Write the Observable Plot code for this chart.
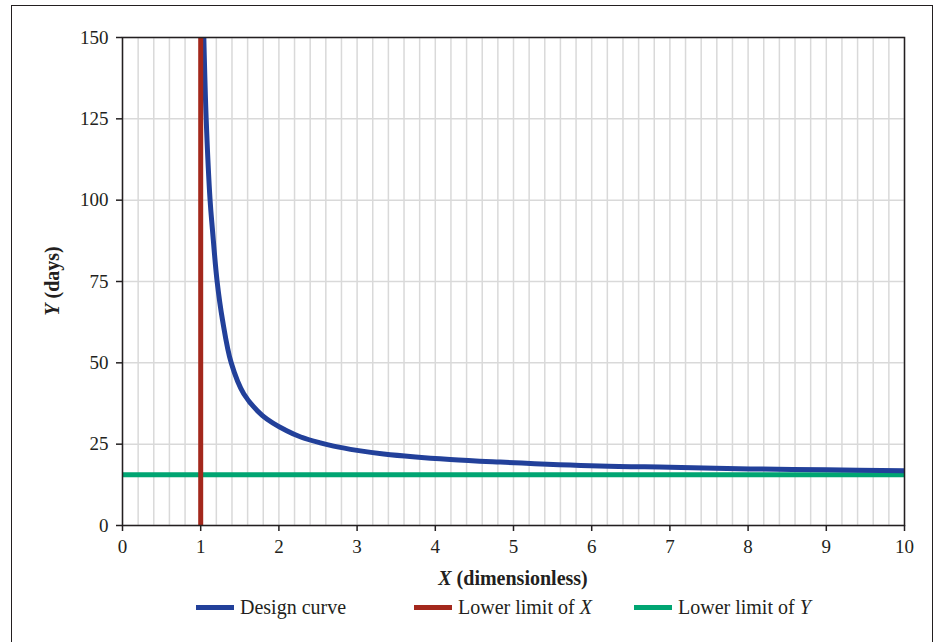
<!DOCTYPE html>
<html>
<head>
<meta charset="utf-8">
<script src="https://cdn.jsdelivr.net/npm/d3@7"></script>
<script src="https://cdn.jsdelivr.net/npm/@observablehq/plot@0.6"></script>
<style>
  html, body { margin: 0; padding: 0; background: #fff; width: 940px; height: 642px; overflow: hidden; }
  #frame { position: absolute; left: 11px; top: 5px; width: 922px; height: 660px; border: 1.5px solid #231f20; box-sizing: border-box; }
  #chart { position: absolute; left: 0; top: 0; }
  .leg { position: absolute; top: 596px; height: 22px; display: flex; align-items: center; font-family: 'Liberation Serif', serif; font-size: 20px; color: #231f20; white-space: nowrap; }
  .sw { width: 38px; height: 5px; margin-right: 6px; }
</style>
</head>
<body>
<div id="frame"></div>
<div id="chart"></div>
<div class="leg" style="left:196px"><span class="sw" style="background:#22409a"></span>Design curve</div>
<div class="leg" style="left:414px"><span class="sw" style="background:#a3281c"></span>Lower limit of&nbsp;<i>X</i></div>
<div class="leg" style="left:634px"><span class="sw" style="background:#00a572"></span>Lower limit of&nbsp;<i>Y</i></div>
<script>
// Design curve
const curveX = [1.04, 1.07, 1.12, 1.15, 1.21, 1.28, 1.39, 1.55, 1.79, 2.1, 2.28, 2.53, 2.7, 3.0, 3.34, 4.19, 4.83, 6.1, 7.0, 8.03, 9.0, 10];
const curveY = [150, 125, 100, 91, 75, 63, 50, 40.5, 33.8, 29.1, 27.2, 25.4, 24.4, 23.1, 22.0, 20.3, 19.5, 18.3, 17.9, 17.4, 17.1, 16.8];
const lowerLimitX = [1];
const lowerLimitY = [15.6];
const xTicks = [0, 1, 2, 3, 4, 5, 6, 7, 8, 9, 10];
const yTicks = [0, 25, 50, 75, 100, 125, 150];
const xMinorGrid = d3.range(0, 51).map(i => i / 5);

const curve = curveX.map((x, i) => ({x, y: curveY[i]}));

const ink = "#231f20";
const plot = Plot.plot({
  width: 940,
  height: 595,
  marginLeft: 122,
  marginRight: 36,
  marginTop: 37,
  marginBottom: 70,
  style: {fontFamily: "'Liberation Serif', serif", fontSize: "19px", color: ink, background: "transparent"},
  x: {domain: [0, 10]},
  y: {domain: [0, 150]},
  marks: [
    Plot.gridX(xMinorGrid, {stroke: "#d9d9d9", strokeOpacity: 1, strokeWidth: 1.5}),
    Plot.gridY(yTicks, {stroke: "#d9d9d9", strokeOpacity: 1, strokeWidth: 1.5}),
    Plot.ruleY(lowerLimitY, {stroke: "#00a572", strokeWidth: 5}),
    Plot.line(curve, {x: "x", y: "y", stroke: "#22409a", strokeWidth: 5, curve: "catmull-rom", clip: true}),
    Plot.ruleX(lowerLimitX, {y1: 0, y2: 150, stroke: "#a3281c", strokeWidth: 5}),
    Plot.frame({stroke: ink, strokeWidth: 1.5}),
    Plot.axisX({ticks: xTicks, tickSize: 6, tickPadding: 8, stroke: ink, strokeWidth: 1.5, label: null, fill: ink}),
    Plot.axisY({ticks: yTicks, tickSize: 6, tickPadding: 8, stroke: ink, strokeWidth: 1.5, label: null, fill: ink})
  ]
});
document.getElementById("chart").appendChild(plot);

const svg = d3.select(plot);
const xl = svg.append("text")
  .attr("x", 513).attr("y", 578).attr("text-anchor", "middle").attr("dy", "0.35em")
  .attr("font-family", "'Liberation Serif', serif").attr("font-size", 20).attr("font-weight", "bold").attr("fill", ink);
xl.append("tspan").attr("font-style", "italic").text("X");
xl.append("tspan").text(" (dimensionless)");

const yl = svg.append("text")
  .attr("transform", "translate(52,281) rotate(-90)").attr("text-anchor", "middle").attr("dy", "0.35em")
  .attr("font-family", "'Liberation Serif', serif").attr("font-size", 20).attr("font-weight", "bold").attr("fill", ink);
yl.append("tspan").attr("font-style", "italic").text("Y");
yl.append("tspan").text(" (days)");
</script>
</body>
</html>
